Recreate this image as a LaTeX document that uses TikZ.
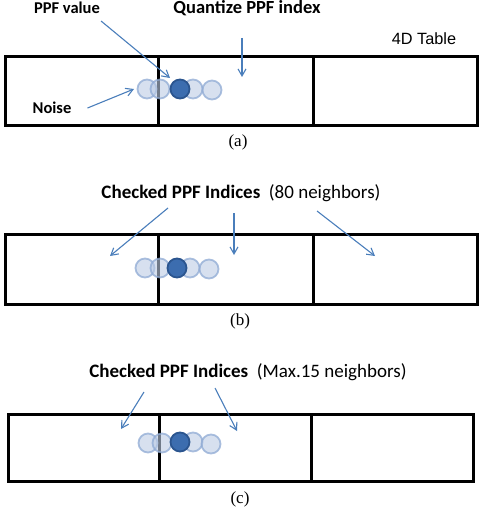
\documentclass[tikz,border=0pt]{standalone}
\usepackage{fontspec}
\newfontfamily\calfont{Carlito}
\newfontfamily\arifont{Liberation Sans}
\newfontfamily\timfont{Liberation Serif}
\usetikzlibrary{arrows.meta}
\definecolor{cArrow}{HTML}{4A7EBB}
\definecolor{cDot}{HTML}{3C6DAF}
\definecolor{cDotEdge}{HTML}{2B558F}
\definecolor{cGhost}{HTML}{8FAAD4}

\begin{document}
\begin{tikzpicture}[
  x=1pt,y=-1pt,
  font=\calfont\fontsize{17}{20}\selectfont,
  cell/.style={draw=black,line width=2.6pt,anchor=north west,inner sep=0pt},
  ghost/.style={circle,draw=cGhost,fill=cGhost!60,fill opacity=0.6,draw opacity=0.75,
                line width=1.8pt,minimum size=19pt,inner sep=0pt},
  dot/.style={circle,draw=cDotEdge,fill=cDot,line width=1.8pt,minimum size=19pt,inner sep=0pt},
  lab/.style={font=\calfont\bfseries\fontsize{16.5}{20}\selectfont,inner sep=0pt},
  ttl/.style={font=\calfont\fontsize{19}{22}\selectfont,inner sep=0pt},
  subcap/.style={font=\timfont\fontsize{17}{20}\selectfont,inner sep=0pt},
  arr/.style={-{Straight Barb[length=7pt,width=8pt]},draw=cArrow,line width=1.1pt},
]
\useasboundingbox (0,0) rectangle (480,508);

%% (a)
\node[cell,minimum width=153pt,minimum height=69pt] (a1) at (4,55) {};
\node[cell,minimum width=155pt,minimum height=69pt] (a2) at (157,55) {};
\node[cell,minimum width=164pt,minimum height=69pt] (a3) at (312,55) {};

\node[ghost] (ga1) at (147,89) {};
\node[ghost] (ga2) at (160,89) {};
\node[ghost] (ga4) at (193,89) {};
\node[ghost] (ga5) at (212,90) {};
\node[dot]   (da)  at (180,89) {};

\node[lab] (val)   at (67,8)   {PPF value};
\node[lab,font=\calfont\bfseries\fontsize{18.5}{22}\selectfont] (quant) at (247,8) {Quantize PPF index};
\node[lab] (noise) at (52,108) {Noise};
\node[font=\arifont\fontsize{16.3}{18}\selectfont,inner sep=0pt] (tbl) at (424,39) {4D Table};
\node[subcap] (capa) at (238,142) {(a)};

\coordinate (valend)   at (170,78);
\coordinate (quantbeg) at (242,38);
\coordinate (quantend) at (242,77);
\coordinate (noiseend) at (134,89);
\draw[arr] (val.south east) ++(1,7) -- (valend);
\draw[arr] (quantbeg) -- (quantend);
\draw[arr] (noise.east) ++(16,0) -- (noiseend);

%% (b)
\node[cell,minimum width=153pt,minimum height=70pt] (b1) at (4,233) {};
\node[cell,minimum width=155pt,minimum height=70pt] (b2) at (157,233) {};
\node[cell,minimum width=164pt,minimum height=70pt] (b3) at (312,233) {};

\node[ghost] (gb1) at (145,268) {};
\node[ghost] (gb2) at (160,268) {};
\node[ghost] (gb4) at (190,268) {};
\node[ghost] (gb5) at (209,269) {};
\node[dot]   (db)  at (177,268) {};

\node[ttl] (chkb) at (241,193) {\bfseries Checked PPF Indices\ \ \mdseries(80 neighbors)};
\node[subcap] (capb) at (240,321) {(b)};

\coordinate (bl0) at (168,208); \coordinate (bl1) at (110,256);
\coordinate (bm0) at (234,213); \coordinate (bm1) at (234,255);
\coordinate (br0) at (317,211); \coordinate (br1) at (375,256);
\draw[arr] (bl0) -- (bl1);
\draw[arr] (bm0) -- (bm1);
\draw[arr] (br0) -- (br1);

%% (c)
\node[cell,minimum width=151pt,minimum height=67pt] (c1) at (7,413) {};
\node[cell,minimum width=152pt,minimum height=67pt] (c2) at (158,413) {};
\node[cell,minimum width=162pt,minimum height=67pt] (c3) at (310,413) {};

\node[ghost] (gc1) at (148,443) {};
\node[ghost] (gc2) at (162,443) {};
\node[ghost] (gc4) at (193,442) {};
\node[ghost] (gc5) at (211,444) {};
\node[dot]   (dc)  at (180,442) {};

\node[ttl] (chkc) at (248,372) {\bfseries Checked PPF Indices\ \ \mdseries(Max.15 neighbors)};
\node[subcap] (capc) at (240,499) {(c)};

\coordinate (cl0) at (144,392); \coordinate (cl1) at (121,429);
\coordinate (cr0) at (215,388); \coordinate (cr1) at (237,431);
\draw[arr] (cl0) -- (cl1);
\draw[arr] (cr0) -- (cr1);
\end{tikzpicture}
\end{document}
